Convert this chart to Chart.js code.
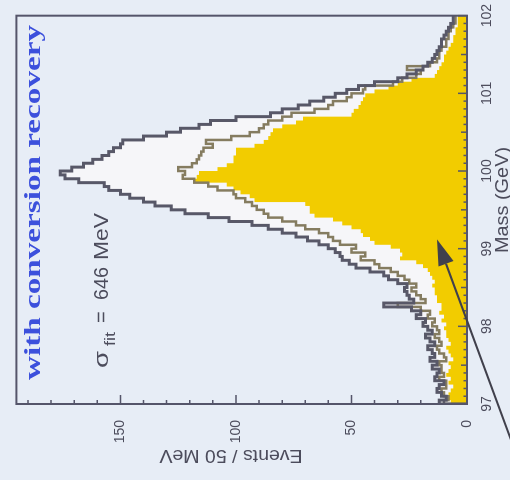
<!DOCTYPE html>
<html>
<head>
<meta charset="utf-8">
<script src="https://cdn.jsdelivr.net/npm/chart.js@4.4.1/dist/chart.umd.min.js"></script>
<style>
  html, body { margin: 0; padding: 0; background: #e7edf6; overflow: hidden; }
  #wrap { position: relative; width: 510px; height: 480px; overflow: hidden; background: #e7edf6; }
  /* the plot is laid out upright and turned a quarter turn to the left */
  #plot { position: absolute; left: 0; top: 0; transform-origin: 0 0; transform: translate(0, 480px) rotate(-90deg); }
</style>
</head>
<body>
<div id="wrap"><canvas id="plot" width="480" height="510"></canvas></div>
<script>
// Mass range and binning (50 MeV bins)
const massRange = [97, 102];
const binWidth = 0.05;
const massTicks = [97, 98, 99, 100, 101, 102];
const eventTicks = [0, 50, 100, 150];
const eventMax = 195;

// Events per 50 MeV bin, from 97.00 GeV upwards
const outerCounts = [
  10, 12, 9, 11, 13, 12, 10, 14, 13, 12,
  15, 13, 16, 14, 15, 17, 14, 16, 18, 15,
  17, 19, 18, 22, 20, 24, 36, 23, 25, 26,
  27, 26, 30, 34, 36, 42, 48, 51, 54, 55,
  57, 60, 64, 69, 74, 80, 86, 93, 103, 112,
  122, 128, 135, 140, 146, 150, 155, 157, 168, 174,
  176, 171, 166, 162, 158, 155, 153, 150, 149, 140,
  130, 124, 116, 111, 100, 85, 80, 73, 68, 62,
  57, 52, 47, 40, 30, 26, 22, 19, 17, 15,
  14, 13, 12, 11, 11, 10, 9, 8, 7, 6
];

const lineCounts = [
  9, 10, 8, 10, 11, 9, 9, 12, 10, 11,
  11, 12, 9, 10, 12, 13, 11, 12, 14, 12,
  13, 15, 14, 17, 16, 20, 30, 18, 20, 22,
  24, 22, 25, 27, 30, 33, 38, 40, 46, 44,
  50, 48, 55, 58, 60, 64, 70, 74, 80, 86,
  88, 91, 93, 96, 100, 101, 108, 112, 118, 123,
  122, 125, 119, 117, 116, 115, 114, 110, 113, 102,
  94, 90, 88, 86, 80, 76, 66, 60, 58, 52,
  50, 45, 44, 32, 28, 22, 20, 26, 16, 13,
  12, 12, 11, 9, 9, 8, 8, 7, 6, 5
];

const filledCounts = [
  8, 7, 9, 8, 7, 6, 8, 7, 9, 8,
  7, 8, 6, 7, 8, 9, 7, 8, 9, 9,
  10, 9, 11, 10, 12, 11, 11, 13, 13, 14,
  14, 15, 14, 15, 16, 17, 19, 22, 29, 28,
  29, 33, 40, 42, 45, 46, 50, 54, 58, 66,
  68, 68, 70, 92, 94, 98, 101, 104, 118, 117,
  116, 108, 104, 101, 101, 100, 100, 92, 88, 86,
  85, 84, 80, 74, 71, 50, 49, 47, 46, 45,
  44, 40, 34, 30, 24, 14, 13, 12, 11, 10,
  10, 9, 8, 7, 6, 6, 5, 5, 4, 4
];

// Annotation arrow, in (mass, events)
const arrowTail = [96.3, -22];
const arrowTip = [99.12, 13];

// Step outline of a histogram: one point at each bin's lower edge
function histogramPoints(counts) {
  const pts = [{ x: massRange[0], y: 0 }];
  counts.forEach((c, i) => pts.push({ x: massRange[0] + i * binWidth, y: c }));
  pts.push({ x: massRange[1], y: counts[counts.length - 1] });
  return pts;
}

const ink = '#4c4c5c';

// Draws text squeezed or stretched horizontally to a given width
function fitText(ctx, text, x, y, width) {
  ctx.save();
  ctx.translate(x, y);
  ctx.scale(width / ctx.measureText(text).width, 1);
  ctx.fillText(text, 0, 0);
  ctx.restore();
}

// Frame, inward tick marks and texts
const framePlugin = {
  id: 'frame',
  afterDatasetsDraw(chart) {
    const { ctx, chartArea: a, scales: { x, y } } = chart;
    ctx.save();
    ctx.strokeStyle = '#55556a';
    ctx.lineWidth = 2;
    ctx.strokeRect(a.left, a.top, a.right - a.left, a.bottom - a.top);

    ctx.lineWidth = 1.5;
    ctx.beginPath();
    for (let k = 0; k <= 50; k++) {
      const v = massRange[0] + k * 0.1;
      const len = k % 10 === 0 ? 9 : (k % 5 === 0 ? 6 : 3.5);
      const px = x.getPixelForValue(v);
      ctx.moveTo(px, a.bottom);
      ctx.lineTo(px, a.bottom - len);
    }
    for (let v = 0; v <= 190; v += 10) {
      const len = v % 50 === 0 ? 9 : 4;
      const py = y.getPixelForValue(v);
      ctx.moveTo(a.left, py);
      ctx.lineTo(a.left + len, py);
    }
    ctx.stroke();
    ctx.restore();
  },
  afterDraw(chart) {
    const { ctx, chartArea: a, scales: { x, y } } = chart;
    ctx.save();

    // arrow
    const tx = x.getPixelForValue(arrowTail[0]), ty = y.getPixelForValue(arrowTail[1]);
    const hx = x.getPixelForValue(arrowTip[0]), hy = y.getPixelForValue(arrowTip[1]);
    const ang = Math.atan2(hy - ty, hx - tx);
    const headLen = 26, headHalf = 8;
    const bx = hx - headLen * Math.cos(ang), by = hy - headLen * Math.sin(ang);
    ctx.strokeStyle = '#40404c';
    ctx.fillStyle = '#40404c';
    ctx.lineWidth = 2;
    ctx.beginPath();
    ctx.moveTo(tx, ty);
    ctx.lineTo(bx, by);
    ctx.stroke();
    ctx.beginPath();
    ctx.moveTo(hx, hy);
    ctx.lineTo(bx + headHalf * Math.sin(ang), by - headHalf * Math.cos(ang));
    ctx.lineTo(bx - headHalf * Math.sin(ang), by + headHalf * Math.cos(ang));
    ctx.closePath();
    ctx.fill();

    // caption inside the frame
    ctx.fillStyle = '#3c50dc';
    ctx.font = 'bold 24px "Liberation Serif", "DejaVu Serif", serif';
    ctx.textBaseline = 'alphabetic';
    fitText(ctx, 'with conversion recovery', a.left + 24, a.top + 24, 355);

    // resolution label
    ctx.fillStyle = ink;
    const bl = a.top + 92;
    ctx.font = '21px "Liberation Sans", Arial, sans-serif';
    fitText(ctx, '\u03c3', a.left + 36, bl, 17);
    ctx.font = '15px "Liberation Sans", Arial, sans-serif';
    fitText(ctx, 'fit', a.left + 58, bl + 7, 14);
    ctx.font = '20px "Liberation Sans", Arial, sans-serif';
    ctx.fillText('=', a.left + 81, bl);
    fitText(ctx, '646', a.left + 104, bl, 33);
    fitText(ctx, 'MeV', a.left + 144, bl, 47);

    // axis titles
    ctx.font = '18px "Liberation Sans", Arial, sans-serif';
    ctx.textAlign = 'center';
    ctx.textBaseline = 'middle';
    fitText(ctx, 'Mass (GeV)', 280, a.bottom + 36, 106);

    ctx.save();
    ctx.translate(25, 231);
    ctx.rotate(-Math.PI / 2);
    fitText(ctx, 'Events / 50 MeV', 0, 0, 143);
    ctx.restore();

    ctx.restore();
  }
};

const tickFont = { family: '"Liberation Sans", Arial, sans-serif', size: 14 };

new Chart(document.getElementById('plot'), {
  type: 'line',
  data: {
    datasets: [
      { data: histogramPoints(outerCounts), stepped: 'after', fill: 'origin',
        backgroundColor: '#f6f6f9', borderColor: 'rgba(0,0,0,0)', borderWidth: 0, pointRadius: 0, order: 4 },
      { data: histogramPoints(filledCounts), stepped: 'after', fill: 'origin',
        backgroundColor: '#f2cc00', borderColor: 'rgba(0,0,0,0)', borderWidth: 0, pointRadius: 0, order: 3 },
      { data: histogramPoints(lineCounts), stepped: 'after', fill: false,
        borderColor: '#857c60', borderWidth: 2.5, pointRadius: 0, order: 2 },
      { data: histogramPoints(outerCounts), stepped: 'after', fill: false,
        borderColor: '#585868', borderWidth: 3, pointRadius: 0, order: 1 }
    ]
  },
  options: {
    responsive: false,
    animation: false,
    devicePixelRatio: 1,
    layout: { padding: { left: 0, top: 12, right: 13, bottom: 0 } },
    plugins: { legend: { display: false }, tooltip: { enabled: false } },
    scales: {
      x: {
        type: 'linear', min: massRange[0], max: massRange[1],
        grid: { display: false }, border: { display: false },
        afterFit(s) { s.height = 43; },
        afterBuildTicks(s) { s.ticks = massTicks.map(v => ({ value: v })); },
        ticks: { padding: 4, color: ink, font: tickFont, maxRotation: 0, autoSkip: false }
      },
      y: {
        type: 'linear', min: 0, max: eventMax,
        grid: { display: false }, border: { display: false },
        afterFit(s) { s.width = 76; },
        afterBuildTicks(s) { s.ticks = eventTicks.map(v => ({ value: v })); },
        ticks: { padding: 8, color: ink, font: tickFont }
      }
    }
  },
  plugins: [framePlugin]
});
</script>
</body>
</html>
